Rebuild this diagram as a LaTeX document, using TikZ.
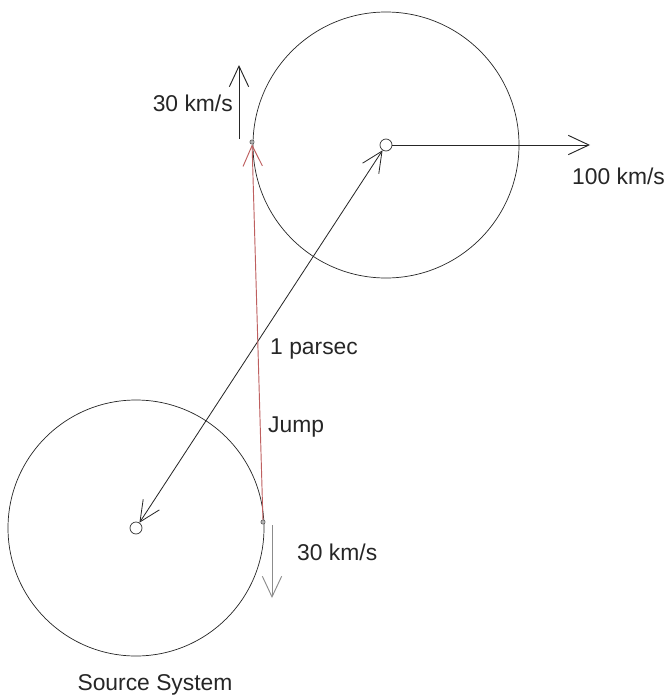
\documentclass[tikz,border=0pt]{standalone}
\usepackage{fontspec}
\setmainfont{Liberation Sans}
\usetikzlibrary{positioning, arrows.meta}

\begin{document}
\begin{tikzpicture}[
  x=0.03cm, y=-0.03cm,
  font=\fontsize{19.5}{22}\selectfont,
  orbit/.style={draw=black!85, line width=0.6pt},
  star/.style={circle, draw=black!80, line width=0.6pt, inner sep=0pt, minimum size=0.36cm},
  tangent/.style={circle, draw=black!70, fill=black!30, line width=0.4pt, inner sep=0pt, minimum size=0.13cm},
  vel/.style={-{Straight Barb[length=0.62cm, width=0.58cm]}, line width=0.8pt, black!85},
  dist/.style={{Straight Barb[length=0.62cm, width=0.58cm]}-{Straight Barb[length=0.62cm, width=0.58cm]},
               line width=0.7pt, black!85},
  jump/.style={-{Straight Barb[length=0.62cm, width=0.58cm]}, line width=0.8pt, color={rgb,255:red,190;green,95;blue,95}},
  lbl/.style={inner sep=0pt, text=black!85}
]
\useasboundingbox (0,0) rectangle (665,697);

% systems
\node[star] (dest) at (386,145) {};
\node[star] (src)  at (136,528) {};
\draw[orbit] (dest) circle[radius=133];
\draw[orbit] (src)  circle[radius=128];

% points on the orbits
\node[tangent] (destpt) at (252,142) {};
\node[tangent] (srcpt)  at (263,522) {};

\coordinate (upfoot)   at (239,139);
\coordinate (uptip)    at (239,65);
\coordinate (downfoot) at (272,525);
\coordinate (downtip)  at (272,598);
\coordinate (fasttip)  at (590,145);

\draw[dist] (dest) -- (src);
\draw[jump] (srcpt) -- (destpt);
\draw[vel] (upfoot) -- (uptip);
\draw[vel, black!45] (downfoot) -- (downtip);
\draw[vel] (dest) -- (fasttip);

\node[lbl, anchor=east] (uplbl)   at (233,103) {30 km/s};
\node[lbl, anchor=west] (downlbl) at (297,552) {30 km/s};
\node[lbl, anchor=west] (fastlbl) at (572,176) {100 km/s};
\node[lbl, anchor=west] (distlbl) at (270,349) {1 parsec};
\node[lbl, anchor=west] (jumplbl) at (268,427) {Jump};
\node[lbl] (srclbl) at (155,685) {Source System};
\end{tikzpicture}
\end{document}
